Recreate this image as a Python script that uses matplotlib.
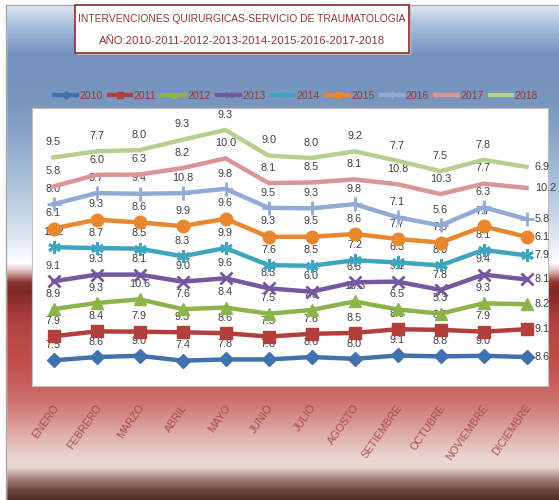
import numpy as np
import matplotlib.pyplot as plt
from matplotlib.colors import to_rgb
from matplotlib.patches import Rectangle
from matplotlib.lines import Line2D

meses = ['ENERO', 'FEBRERO', 'MARZO', 'ABRIL', 'MAYO', 'JUNIO', 'JULIO',
         'AGOSTO', 'SETIEMBRE', 'OCTUBRE', 'NOVIEMBRE', 'DICIEMBRE']
anios = ['2010', '2011', '2012', '2013', '2014', '2015', '2016', '2017', '2018']

v2010 = [7.5, 8.6, 9.0, 7.4, 7.8, 7.8, 8.6, 8.0, 9.1, 8.8, 9.0, 8.6]
v2011 = [7.9, 8.4, 7.9, 9.3, 8.6, 7.5, 7.6, 8.5, 8.6, 8.7, 7.9, 9.1]
v2012 = [8.9, 9.3, 10.6, 7.6, 8.4, 7.5, 7.8, 10.3, 6.5, 5.3, 9.3, 8.2]
v2013 = [9.1, 9.3, 8.1, 9.0, 9.6, 8.3, 6.0, 6.3, 9.1, 7.8, 9.4, 8.1]
v2014 = [11.2, 8.7, 8.5, 8.3, 9.9, 7.6, 8.5, 7.2, 6.3, 8.0, 8.1, 7.9]
v2015 = [6.1, 9.3, 8.6, 9.9, 9.6, 9.3, 9.5, 8.6, 7.7, 7.5, 7.7, 6.1]
v2016 = [8.0, 8.7, 9.4, 10.8, 9.8, 9.5, 9.3, 9.8, 7.1, 5.6, 6.3, 5.8]
v2017 = [5.8, 6.0, 6.3, 8.2, 10.0, 8.1, 8.5, 8.1, 10.8, 10.3, 7.7, 10.2]
v2018 = [9.5, 7.7, 8.0, 9.3, 9.3, 9.0, 8.0, 9.2, 7.7, 7.5, 7.8, 6.9]
series = [v2010, v2011, v2012, v2013, v2014, v2015, v2016, v2017, v2018]

colores = ['#4271B0', '#B23F3C', '#8DB44A', '#7558A0', '#3DA5BE',
           '#E9862E', '#93AAD8', '#D99694', '#B7D08E']
marcadores = ['D', 's', '^', 'x', (6, 2, 0), 'o', '+', '', '']
tam_marc = [7.5, 8, 8, 8, 9, 9, 10, 0, 0]

fuente = 'Liberation Sans'
W, H = 559, 500

fig = plt.figure(figsize=(W / 100, H / 100), dpi=100)

# fondo degradado
stops = [(0, '#DDE8F3'), (6, '#DDE8F3'), (25, '#A9BFDC'), (55, '#7391BE'),
         (100, '#7896BD'), (130, '#86A3C6'), (180, '#A8BFD9'), (220, '#CCDAE8'),
         (250, '#EEF3F8'), (263, '#FFFFFF'), (270, '#E2C6C4'), (282, '#8E3431'),
         (292, '#7F2826'), (320, '#B0413E'), (370, '#C4534F'), (400, '#CC706D'),
         (430, '#DDA5A2'), (455, '#E9D2CD'), (467, '#EAD9D3'), (478, '#A88780'),
         (490, '#6E4840'), (500, '#4E2C26')]
ys = np.array([s[0] for s in stops], dtype=float)
cs = np.array([to_rgb(s[1]) for s in stops])
filas = np.arange(H) + 0.5
grad = np.stack([np.interp(filas, ys, cs[:, k]) for k in range(3)], axis=-1)
bg = fig.add_axes([0, 0, 1, 1], zorder=-10)
bg.imshow(grad[:, None, :], aspect='auto', extent=[0, W, H, 0])
bg.set_xlim(0, W)
bg.set_ylim(H, 0)
bg.axis('off')
bg.add_patch(Rectangle((0, 0), W, 5, color='white', zorder=2))
bg.add_patch(Rectangle((0, 0), 6, H, color='white', zorder=2))
bg.plot([6, 6, W], [H, 5, 5], color='#A6A6A6', lw=1, zorder=3)

# titulo
bg.add_patch(Rectangle((77, 7), 334, 48, facecolor='#BFBFBF', edgecolor='none', zorder=3))
bg.add_patch(Rectangle((75, 5), 334, 48, facecolor='white', edgecolor='#8B2D2B', lw=1.2, zorder=4))
bg.text(242, 19, 'INTERVENCIONES QUIRURGICAS-SERVICIO DE TRAUMATOLOGIA', ha='center', va='center',
        color='#963634', fontsize=7.4, family=fuente, zorder=5)
bg.text(242, 41, 'AÑO:2010-2011-2012-2013-2014-2015-2016-2017-2018', ha='center', va='center',
        color='#963634', fontsize=8.2, family=fuente, zorder=5)

# area de trazado
ax = fig.add_axes([32 / W, (H - 386) / H, 516 / W, 278 / H])
ax.set_facecolor('white')
x = np.arange(len(meses))
acum = np.cumsum(np.array(series), axis=0)

handles = []
for i, anio in enumerate(anios):
    ax.plot(x, acum[i], color=colores[i], lw=3.2, marker=marcadores[i] or None,
            ms=tam_marc[i], mew=2 if marcadores[i] in ('x', '+', (6, 2, 0)) else 1,
            mfc=colores[i], mec=colores[i], solid_joinstyle='round', zorder=3)
    handles.append(Line2D([], [], color=colores[i], lw=3, marker=marcadores[i] or None,
                          ms=tam_marc[i] * 0.55, mfc=colores[i], mec=colores[i]))
    for j, val in enumerate(series[i]):
        if j == len(meses) - 1:
            ax.annotate(f'{val:.1f}', (x[j], acum[i][j]), xytext=(6, 0), textcoords='offset points',
                        ha='left', va='center', fontsize=7.8, color='#404040', family=fuente,
                        annotation_clip=False)
        else:
            ax.annotate(f'{val:.1f}', (x[j], acum[i][j]), xytext=(0, 11), textcoords='offset points',
                        ha='center', va='center', fontsize=7.8, color='#404040', family=fuente)

ax.set_xlim(-0.5, len(meses) - 0.5)
ax.set_ylim(-0.9, 90.2)
ax.set_yticks([])
# etiquetas de mes algo desplazadas a la derecha (ticks invisibles)
ax.set_xticks(x + 0.16)
ax.set_xticklabels(meses, rotation=55, ha='right', fontsize=7.8, color='#9C3A38', alpha=0.8,
                   family=fuente)
ax.tick_params(axis='x', length=0, pad=12)
for s in ax.spines.values():
    s.set_color('#BFBFBF')
    s.set_linewidth(0.8)

leg = fig.legend(handles, anios, loc='center', bbox_to_anchor=(296 / W, 1 - 96 / H), ncol=9,
                 frameon=False, handlelength=2.2, handletextpad=0.2,
                 columnspacing=0.6, prop={'family': fuente, 'size': 7.5})
for t in leg.get_texts():
    t.set_color('#953735')

fig.savefig('out.png', dpi=100)
